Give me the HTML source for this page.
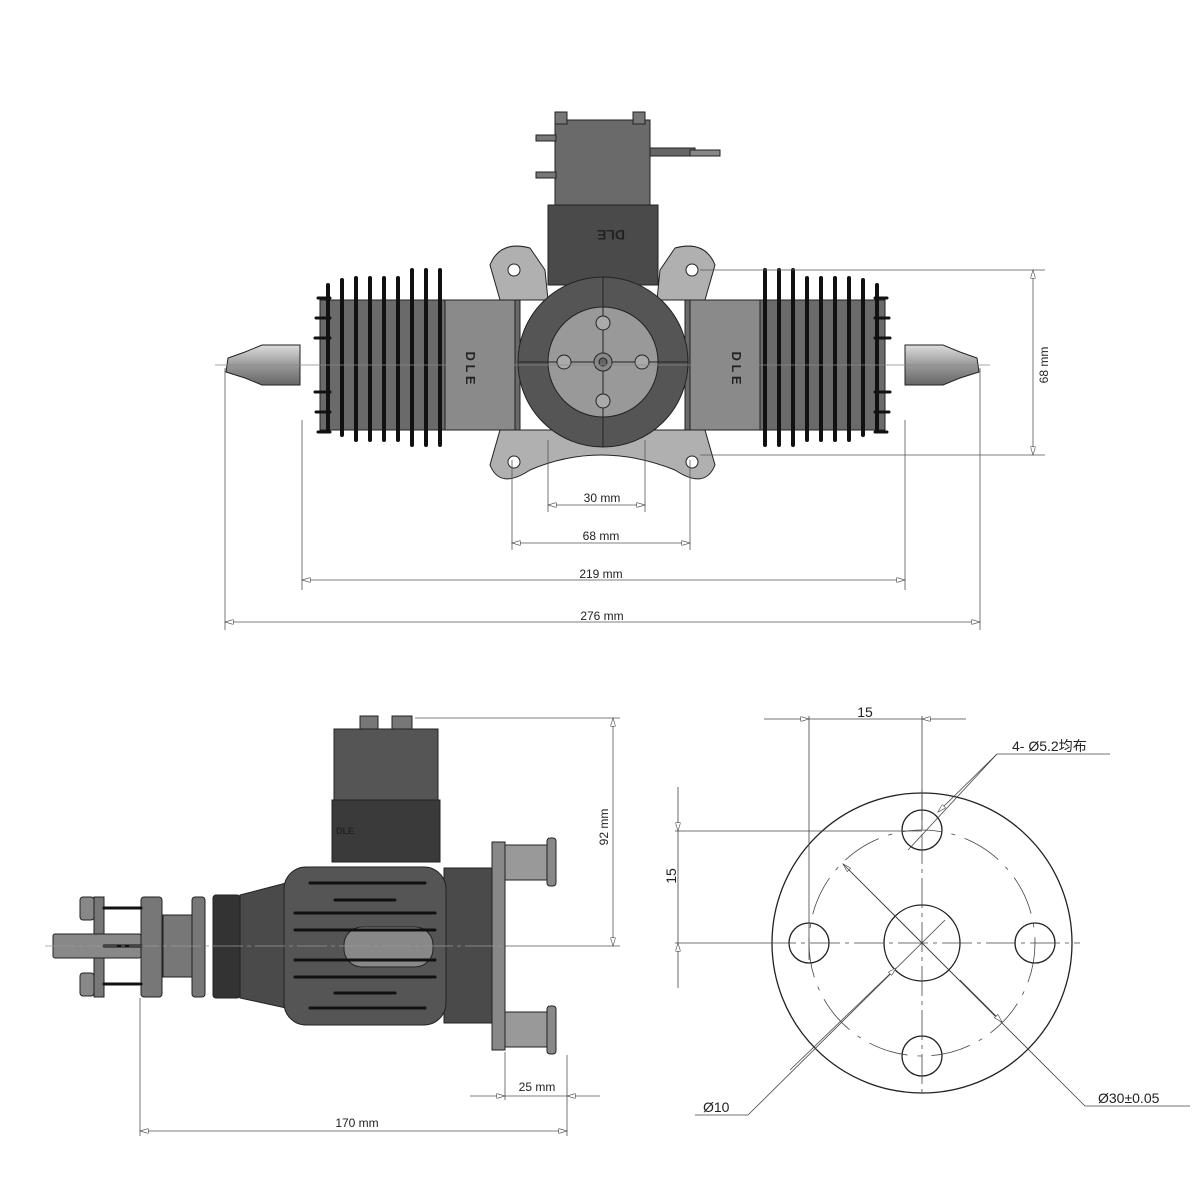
<!DOCTYPE html>
<html><head><meta charset="utf-8"><style>
html,body{margin:0;padding:0;background:#fff}
svg{display:block}
text{font-family:"Liberation Sans","Noto Sans CJK SC",sans-serif;fill:#222}
</style></head><body>
<svg width="1200" height="1200" viewBox="0 0 1200 1200" xmlns="http://www.w3.org/2000/svg">
<defs>
<marker id="ar" viewBox="0 0 10 6" refX="10" refY="3" markerWidth="14" markerHeight="5" orient="auto-start-reverse" markerUnits="userSpaceOnUse"><path d="M0,0 L10,3 L0,6 Z" fill="#fff" stroke="#555" stroke-width="0.8"/></marker>
<linearGradient id="plug" x1="0" y1="0" x2="0" y2="1"><stop offset="0" stop-color="#ddd"/><stop offset="0.5" stop-color="#999"/><stop offset="1" stop-color="#666"/></linearGradient>
</defs>

<!-- ========== TOP ENGINE ========== -->
<g stroke="#222" stroke-width="1">
 <path d="M300,345 L262,345 L245,352 L228,358 L226,372 L245,378 L262,385 L300,385 Z" fill="url(#plug)"/>
 <path d="M905,345 L943,345 L960,352 L977,358 L979,372 L960,378 L943,385 L905,385 Z" fill="url(#plug)"/>
 <rect x="320" y="300" width="200" height="130" fill="#6a6a6a"/>
 <rect x="685" y="300" width="200" height="130" fill="#6a6a6a"/>
 <rect x="445" y="300" width="70" height="130" fill="#8a8a8a"/>
 <rect x="690" y="300" width="70" height="130" fill="#8a8a8a"/>
 <path d="M490,265 Q500,240 530,248 L545,270 L548,300 L500,300 Z" fill="#b0b0b0"/>
 <path d="M715,265 Q705,240 675,248 L660,270 L657,300 L705,300 Z" fill="#b0b0b0"/>
 <path d="M490,465 Q500,490 530,470 Q600,440 675,470 Q705,490 715,465 L705,430 L500,430 Z" fill="#b0b0b0"/>
 <circle cx="514" cy="270" r="6" fill="#fff"/><circle cx="692" cy="270" r="6" fill="#fff"/>
 <circle cx="514" cy="462" r="6" fill="#fff"/><circle cx="692" cy="462" r="6" fill="#fff"/>
 <rect x="548" y="205" width="110" height="80" fill="#4a4a4a"/>
 <text x="625" y="240" font-size="14" font-weight="bold" fill="#222" stroke="none" transform="rotate(180 625 235)">DLE</text>
 <rect x="555" y="120" width="95" height="85" fill="#6a6a6a"/>
 <rect x="555" y="112" width="12" height="12" fill="#777"/><rect x="633" y="112" width="12" height="12" fill="#777"/>
 <rect x="536" y="135" width="20" height="6" fill="#777"/><rect x="536" y="172" width="20" height="6" fill="#777"/>
 <rect x="650" y="148" width="45" height="8" fill="#666"/><rect x="690" y="150" width="30" height="6" fill="#888"/>
 <circle cx="603" cy="362" r="85" fill="#555"/>
 <circle cx="603" cy="362" r="55" fill="#999"/>
 <line x1="518" y1="362" x2="688" y2="362"/><line x1="603" y1="277" x2="603" y2="447"/>
 <circle cx="603" cy="323" r="7" fill="#aaa"/><circle cx="603" cy="401" r="7" fill="#aaa"/>
 <circle cx="564" cy="362" r="7" fill="#aaa"/><circle cx="642" cy="362" r="7" fill="#aaa"/>
 <circle cx="603" cy="362" r="9" fill="#888"/><circle cx="603" cy="362" r="4" fill="#666"/>
</g>
<g stroke="#111" stroke-width="4" stroke-linecap="round">
 <line x1="328" y1="285" x2="328" y2="430"/><line x1="342" y1="280" x2="342" y2="435"/><line x1="356" y1="278" x2="356" y2="440"/>
 <line x1="370" y1="278" x2="370" y2="440"/><line x1="384" y1="278" x2="384" y2="440"/><line x1="398" y1="278" x2="398" y2="440"/>
 <line x1="412" y1="270" x2="412" y2="445"/><line x1="426" y1="270" x2="426" y2="445"/><line x1="440" y1="270" x2="440" y2="445"/>
 <line x1="877" y1="285" x2="877" y2="430"/><line x1="863" y1="280" x2="863" y2="435"/><line x1="849" y1="278" x2="849" y2="440"/>
 <line x1="835" y1="278" x2="835" y2="440"/><line x1="821" y1="278" x2="821" y2="440"/><line x1="807" y1="278" x2="807" y2="440"/>
 <line x1="793" y1="270" x2="793" y2="445"/><line x1="779" y1="270" x2="779" y2="445"/><line x1="765" y1="270" x2="765" y2="445"/>
</g>
<g stroke="#111" stroke-width="3" stroke-linecap="round">
 <line x1="318" y1="298" x2="330" y2="298"/><line x1="316" y1="318" x2="330" y2="318"/><line x1="315" y1="338" x2="330" y2="338"/><line x1="315" y1="392" x2="330" y2="392"/><line x1="316" y1="412" x2="330" y2="412"/><line x1="318" y1="432" x2="330" y2="432"/>
 <line x1="875" y1="298" x2="887" y2="298"/><line x1="875" y1="318" x2="889" y2="318"/><line x1="875" y1="338" x2="890" y2="338"/><line x1="875" y1="392" x2="890" y2="392"/><line x1="875" y1="412" x2="889" y2="412"/><line x1="875" y1="432" x2="887" y2="432"/>
</g>
<text x="470" y="372" font-size="13" font-weight="bold" transform="rotate(90 470 368)" text-anchor="middle" fill="#111">D L E</text>
<text x="736" y="372" font-size="13" font-weight="bold" transform="rotate(90 736 368)" text-anchor="middle" fill="#111">D L E</text>

<g stroke="#555" stroke-width="0.8" fill="none">
 <line x1="215" y1="365" x2="990" y2="365" stroke="#888"/>
 <line x1="225" y1="368" x2="225" y2="630"/><line x1="980" y1="368" x2="980" y2="630"/>
 <line x1="302" y1="420" x2="302" y2="590"/><line x1="905" y1="420" x2="905" y2="590"/>
 <line x1="512" y1="460" x2="512" y2="550"/><line x1="690" y1="460" x2="690" y2="550"/>
 <line x1="548" y1="440" x2="548" y2="512"/><line x1="645" y1="440" x2="645" y2="512"/>
 <line x1="700" y1="270" x2="1045" y2="270"/><line x1="700" y1="455" x2="1045" y2="455"/>
 <line x1="1033" y1="270" x2="1033" y2="455" marker-start="url(#ar)" marker-end="url(#ar)"/>
 <line x1="548" y1="505" x2="645" y2="505" marker-start="url(#ar)" marker-end="url(#ar)"/>
 <line x1="512" y1="543" x2="690" y2="543" marker-start="url(#ar)" marker-end="url(#ar)"/>
 <line x1="302" y1="580" x2="905" y2="580" marker-start="url(#ar)" marker-end="url(#ar)"/>
 <line x1="225" y1="622" x2="980" y2="622" marker-start="url(#ar)" marker-end="url(#ar)"/>
</g>
<g font-size="12" text-anchor="middle">
 <text x="602" y="502">30 mm</text>
 <text x="601" y="540">68 mm</text>
 <text x="601" y="578">219 mm</text>
 <text x="602" y="620">276 mm</text>
 <text x="1048" y="365" transform="rotate(-90 1048 365)">68 mm</text>
</g>

<!-- ========== BOTTOM LEFT ENGINE (centerline y=946) ========== -->
<g stroke="#222" stroke-width="1">
 <rect x="360" y="716" width="18" height="14" fill="#777"/><rect x="392" y="716" width="20" height="14" fill="#777"/>
 <rect x="334" y="729" width="104" height="72" fill="#555"/>
 <rect x="332" y="800" width="108" height="62" fill="#3a3a3a"/>
 <text x="336" y="834" font-size="9" font-weight="bold" fill="#111" stroke="none">DLE</text>
 <rect x="444" y="868" width="50" height="155" fill="#4a4a4a"/>
 <path d="M240,895 L286,883 L286,1008 L240,998 Z" fill="#4a4a4a"/>
 <rect x="284" y="867" width="162" height="158" rx="22" fill="#555"/>
 <rect x="492" y="842" width="13" height="208" fill="#888"/>
 <rect x="505" y="845" width="45" height="35" fill="#999"/><rect x="547" y="838" width="9" height="48" rx="3" fill="#888"/>
 <rect x="505" y="1012" width="45" height="35" fill="#999"/><rect x="547" y="1006" width="9" height="48" rx="3" fill="#888"/>
 <rect x="213" y="895" width="27" height="103" rx="3" fill="#333"/>
 <rect x="192" y="897" width="13" height="100" rx="3" fill="#777"/>
 <rect x="163" y="915" width="29" height="62" fill="#777"/>
 <rect x="141" y="897" width="21" height="100" rx="3" fill="#777"/>
 <rect x="94" y="897" width="10" height="100" fill="#777"/>
 <rect x="80" y="897" width="14" height="23" rx="3" fill="#888"/><rect x="80" y="973" width="14" height="23" rx="3" fill="#888"/>
 <rect x="80" y="935" width="14" height="22" rx="3" fill="#888"/>
 <rect x="53" y="934" width="88" height="24" rx="2" fill="#888"/>
 <rect x="344" y="927" width="89" height="40" rx="18" fill="#888"/>
</g>
<g stroke="#111" stroke-width="3" stroke-linecap="round">
 <line x1="104" y1="908" x2="141" y2="908"/><line x1="104" y1="946" x2="141" y2="946"/><line x1="104" y1="984" x2="141" y2="984"/>
 <line x1="310" y1="883" x2="425" y2="883"/><line x1="335" y1="900" x2="395" y2="900"/>
 <line x1="295" y1="913" x2="435" y2="913"/><line x1="295" y1="930" x2="435" y2="930"/><line x1="295" y1="960" x2="435" y2="960"/>
 <line x1="295" y1="977" x2="435" y2="977"/><line x1="335" y1="993" x2="395" y2="993"/><line x1="310" y1="1008" x2="425" y2="1008"/>
</g>
<g stroke="#555" stroke-width="0.8" fill="none">
 <line x1="415" y1="718" x2="620" y2="718"/><line x1="505" y1="946" x2="620" y2="946"/>
 <line x1="45" y1="946" x2="505" y2="946" stroke="#999" stroke-dasharray="30,4,4,4"/>
 <line x1="613" y1="718" x2="613" y2="946" marker-start="url(#ar)" marker-end="url(#ar)"/>
 <line x1="140" y1="998" x2="140" y2="1136"/><line x1="567" y1="1055" x2="567" y2="1136"/><line x1="505" y1="1052" x2="505" y2="1100"/>
 <line x1="140" y1="1131" x2="567" y2="1131" marker-start="url(#ar)" marker-end="url(#ar)"/>
 <line x1="470" y1="1096" x2="505" y2="1096" marker-end="url(#ar)"/>
 <line x1="505" y1="1096" x2="567" y2="1096"/>
 <line x1="600" y1="1096" x2="567" y2="1096" marker-end="url(#ar)"/>
</g>
<g font-size="12" text-anchor="middle">
 <text x="357" y="1127">170 mm</text>
 <text x="537" y="1091">25 mm</text>
 <text x="608" y="827" transform="rotate(-90 608 827)">92 mm</text>
</g>

<!-- ========== FLANGE ========== -->
<g stroke="#222" stroke-width="1.3" fill="none">
 <circle cx="922" cy="943" r="150"/>
 <circle cx="922" cy="943" r="38"/>
 <circle cx="922" cy="830" r="20"/><circle cx="922" cy="1056" r="20"/>
 <circle cx="809" cy="943" r="20"/><circle cx="1035" cy="943" r="20"/>
</g>
<g stroke="#444" stroke-width="0.8" fill="none">
 <circle cx="922" cy="943" r="113" stroke-dasharray="40,10,4,10"/>
 <line x1="766" y1="943" x2="1080" y2="943" stroke-dasharray="30,5,4,5"/>
 <line x1="922" y1="790" x2="922" y2="1096" stroke-dasharray="30,5,4,5"/>
 <line x1="764" y1="719" x2="809" y2="719" marker-end="url(#ar)"/>
 <line x1="809" y1="719" x2="922" y2="719"/>
 <line x1="966" y1="719" x2="922" y2="719" marker-end="url(#ar)"/>
 <line x1="809" y1="716" x2="809" y2="960"/><line x1="922" y1="716" x2="922" y2="830"/>
 <line x1="678" y1="787" x2="678" y2="831" marker-end="url(#ar)"/>
 <line x1="678" y1="831" x2="678" y2="943"/>
 <line x1="678" y1="988" x2="678" y2="943" marker-end="url(#ar)"/>
 <line x1="675" y1="831" x2="922" y2="831"/><line x1="675" y1="943" x2="766" y2="943"/>
 <line x1="908" y1="850" x2="997" y2="754"/><line x1="997" y1="754" x2="1110" y2="754"/>
 <line x1="997" y1="754" x2="938" y2="812" marker-end="url(#ar)"/>
 <line x1="945" y1="920" x2="748" y2="1115"/><line x1="748" y1="1115" x2="695" y2="1115"/>
 <line x1="790" y1="1070" x2="896" y2="968" marker-end="url(#ar)"/>
 <line x1="1000" y1="1021" x2="843" y2="864" marker-end="url(#ar)"/>
 <line x1="843" y1="864" x2="1085" y2="1106"/><line x1="1085" y1="1106" x2="1190" y2="1106"/>
 <line x1="960" y1="980" x2="1002" y2="1022" marker-end="url(#ar)"/>
</g>
<g font-size="14">
 <text x="865" y="717" text-anchor="middle">15</text>
 <text x="676" y="876" text-anchor="middle" transform="rotate(-90 676 876)">15</text>
 <text x="1012" y="751">4- Ø5.2均布</text>
 <text x="703" y="1112">Ø10</text>
 <text x="1098" y="1103">Ø30±0.05</text>
</g>
</svg>
</body></html>
